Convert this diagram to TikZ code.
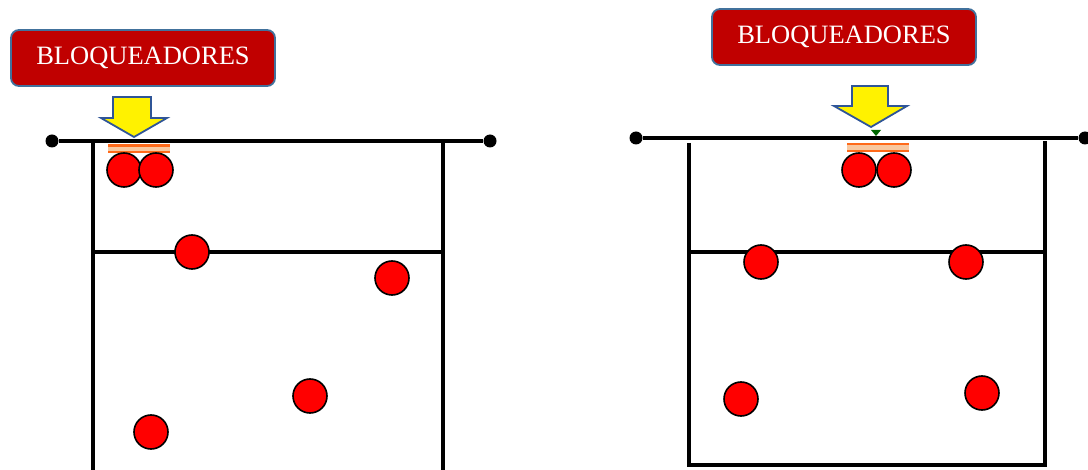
\documentclass[tikz,border=0pt]{standalone}
\usepackage{fontspec}
\setmainfont{Liberation Serif}
\definecolor{boxred}{HTML}{C00000}
\definecolor{boxedge}{HTML}{41719C}
\definecolor{arrowedge}{HTML}{2F5597}
\definecolor{blockor}{HTML}{FF6A1A}
\definecolor{blocklight}{HTML}{F8C8A0}
\begin{document}
\begin{tikzpicture}[x=1pt,y=-1pt,
  line/.style={line width=3.6pt,black},
  post/.style={circle,fill=black,inner sep=0pt,minimum size=13pt},
  player/.style={circle,draw=black,line width=1.6pt,fill=red,inner sep=0pt,minimum size=34pt},
  label/.style={rounded corners=8pt,draw=boxedge,line width=1.8pt,fill=boxred,text=white,font=\fontsize{26.5}{26.5}\selectfont,minimum width=264pt,minimum height=56pt,inner sep=0pt},
  yarrow/.style={fill=yellow,draw=arrowedge,line width=1.8pt,line join=miter},
  block/.style={draw=blockor,line width=2.4pt}]
\useasboundingbox (0,0) rectangle (1088,470);
% ---------- left court ----------
\node[label] (labL) at (143,58) {BLOQUEADORES};
\node[post] (pL1) at (52,141) {};
\node[post] (pL2) at (490,141) {};
\draw[line] (pL1) -- (pL2);
\coordinate (cL1) at (93,143);
\coordinate (cL2) at (93,470);
\coordinate (cL3) at (443,143);
\coordinate (cL4) at (443,470);
\draw[line] (cL1) -- (cL2);
\draw[line] (cL3) -- (cL4);
\coordinate (aL1) at (93,252);
\coordinate (aL2) at (443,252);
\draw[line] (aL1) -- (aL2);
\draw[yarrow] (113,97) -- (151,97) -- (151,118) -- (167,118) -- (134,137) -- (101,118) -- (113,118) -- cycle;
\fill[blocklight] (108,145) rectangle (170,152);
\draw[block] (108,145.5) -- (170,145.5);
\draw[block] (108,152) -- (170,152);
\node[player] (l1) at (124,170) {};
\node[player] (l2) at (156,170) {};
\node[player] (l3) at (192,252) {};
\node[player] (l4) at (392,278) {};
\node[player] (l5) at (310,396) {};
\node[player] (l6) at (151,432) {};
% ---------- right court ----------
\node[label] (labR) at (844,37) {BLOQUEADORES};
\node[post] (pR1) at (636,138) {};
\node[post] (pR2) at (1085,138) {};
\draw[line] (pR1) -- (pR2);
\coordinate (cR1) at (689,143);
\coordinate (cR2) at (689,465);
\coordinate (cR3) at (1045,141);
\coordinate (cR4) at (1045,465);
\draw[line,line join=miter] (cR1) -- (cR2) -- (cR4) -- (cR3);
\coordinate (aR1) at (689,252);
\coordinate (aR2) at (1045,252);
\draw[line] (aR1) -- (aR2);
\draw[yarrow] (852,86) -- (888,86) -- (888,106) -- (907,106) -- (871,127) -- (834,106) -- (852,106) -- cycle;
\fill[green!40!black] (871,130) -- (881,130) -- (876,136) -- cycle;
\fill[blocklight] (847,144) rectangle (909,151);
\draw[block] (847,144) -- (909,144);
\draw[block] (847,151) -- (909,151);
\node[player] (r1) at (859,170) {};
\node[player] (r2) at (894,170) {};
\node[player] (r3) at (761,262) {};
\node[player] (r4) at (966,262) {};
\node[player] (r5) at (741,399) {};
\node[player] (r6) at (982,393) {};
\end{tikzpicture}
\end{document}
